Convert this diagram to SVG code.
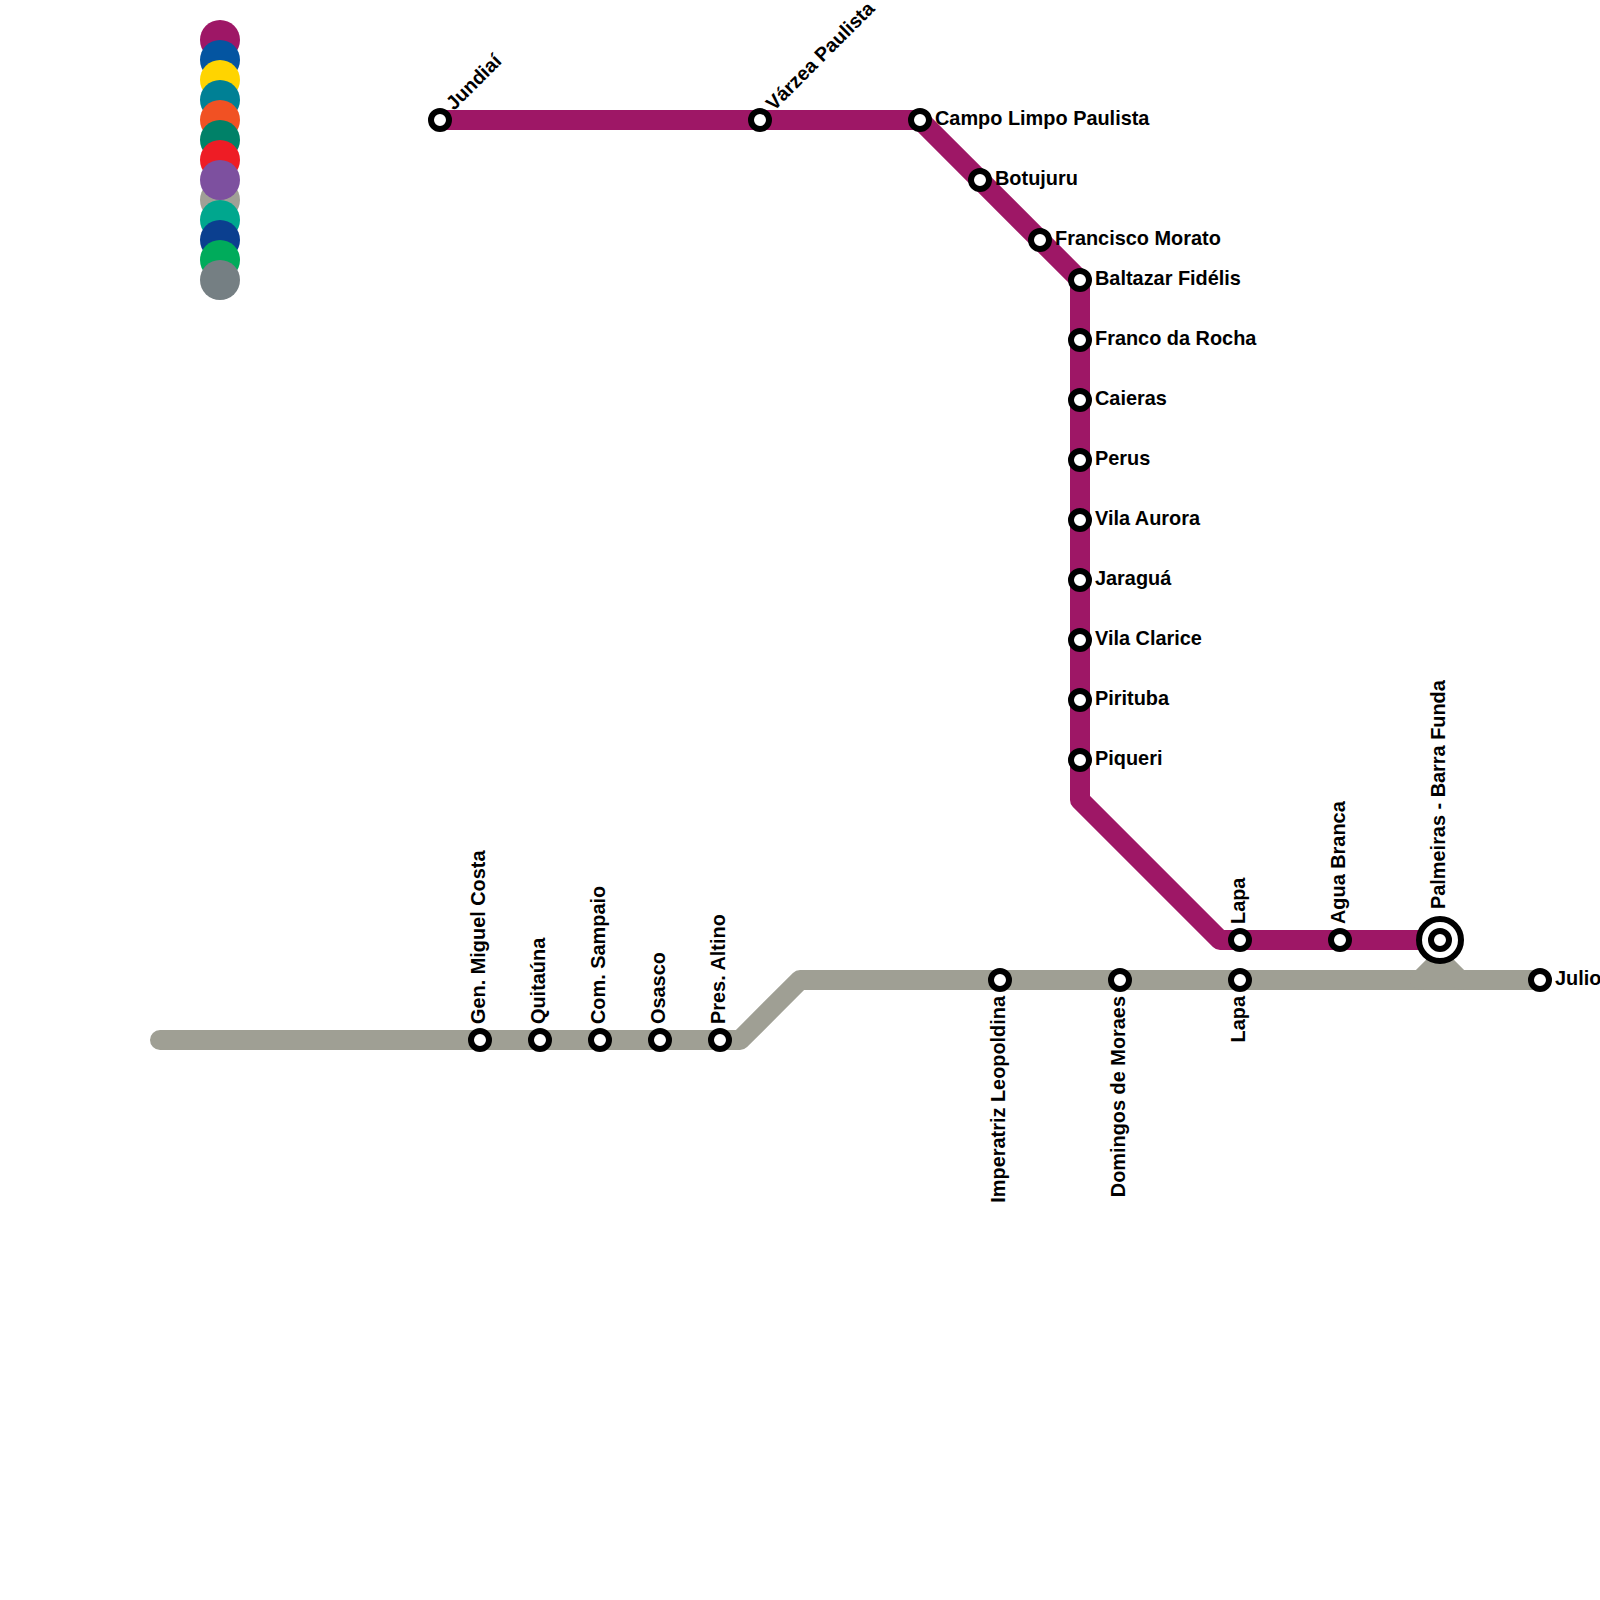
<svg xmlns="http://www.w3.org/2000/svg" width="1600" height="1600" viewBox="0 0 1600 1600">
<defs><style>
.l{fill:none;stroke-width:20;stroke-linejoin:round;stroke-linecap:round}
.s{fill:#fff;stroke:#000;stroke-width:6}
.t{font-family:"Liberation Sans",Arial,sans-serif;font-weight:700;font-size:19.9px;fill:#000}
.d{font-size:19.6px}
</style></defs>
<rect width="1600" height="1600" fill="#fff"/>
<g id="legend">
<circle cx="220" cy="40" r="20" fill="#9e1766"/>
<circle cx="220" cy="60" r="20" fill="#0455a1"/>
<circle cx="220" cy="80" r="20" fill="#ffd400"/>
<circle cx="220" cy="100" r="20" fill="#008095"/>
<circle cx="220" cy="120" r="20" fill="#f15123"/>
<circle cx="220" cy="140" r="20" fill="#008168"/>
<circle cx="220" cy="160" r="20" fill="#ee1c25"/>
<circle cx="220" cy="200" r="20" fill="#a0a096"/>
<circle cx="220" cy="180" r="20" fill="#7d509f"/>
<circle cx="220" cy="220" r="20" fill="#00a78e"/>
<circle cx="220" cy="240" r="20" fill="#0b3f8f"/>
<circle cx="220" cy="260" r="20" fill="#00ab5b"/>
<circle cx="220" cy="280" r="20" fill="#757f83"/>
</g>
<g id="connectors">
<path class="l" stroke="#9f9f94" d="M160 1040H740L800 980H1540"/>
<path class="l" stroke="#9f9f94" d="M1420 980L1440 960L1460 980"/>
<path class="l" stroke="#9e1766" d="M440 120H920L1080 280V800L1220 940H1440"/>
</g>
<g id="jundiai"><circle class="s" cx="440" cy="120" r="9"/><text class="t d" transform="translate(454 111) rotate(-45)">Jundiaí</text></g>
<g id="varzea-paulista"><circle class="s" cx="760" cy="120" r="9"/><text class="t d" transform="translate(774 111.5) rotate(-45)">Várzea Paulista</text></g>
<g id="campo-limpo-paulista"><circle class="s" cx="920" cy="120" r="9"/><text class="t" x="935" y="125">Campo Limpo Paulista</text></g>
<g id="botujuru"><circle class="s" cx="980" cy="180" r="9"/><text class="t" x="995" y="185">Botujuru</text></g>
<g id="francisco-morato"><circle class="s" cx="1040" cy="240" r="9"/><text class="t" x="1055" y="245">Francisco Morato</text></g>
<g id="baltazar-fidelis"><circle class="s" cx="1080" cy="280" r="9"/><text class="t" x="1095" y="285">Baltazar Fidélis</text></g>
<g id="franco-da-rocha"><circle class="s" cx="1080" cy="340" r="9"/><text class="t" x="1095" y="345">Franco da Rocha</text></g>
<g id="caieras"><circle class="s" cx="1080" cy="400" r="9"/><text class="t" x="1095" y="405">Caieras</text></g>
<g id="perus"><circle class="s" cx="1080" cy="460" r="9"/><text class="t" x="1095" y="465">Perus</text></g>
<g id="vila-aurora"><circle class="s" cx="1080" cy="520" r="9"/><text class="t" x="1095" y="525">Vila Aurora</text></g>
<g id="jaragua"><circle class="s" cx="1080" cy="580" r="9"/><text class="t" x="1095" y="585">Jaraguá</text></g>
<g id="vila-clarice"><circle class="s" cx="1080" cy="640" r="9"/><text class="t" x="1095" y="645">Vila Clarice</text></g>
<g id="pirituba"><circle class="s" cx="1080" cy="700" r="9"/><text class="t" x="1095" y="705">Pirituba</text></g>
<g id="piqueri"><circle class="s" cx="1080" cy="760" r="9"/><text class="t" x="1095" y="765">Piqueri</text></g>
<g id="lapa-7"><circle class="s" cx="1240" cy="940" r="9"/><text class="t" transform="translate(1245 924) rotate(-90)">Lapa</text></g>
<g id="agua-branca"><circle class="s" cx="1340" cy="940" r="9"/><text class="t" transform="translate(1345 924) rotate(-90)">Agua Branca</text></g>
<g id="palmeiras-barra-funda"><circle class="s" cx="1440" cy="940" r="21"/><circle class="s" cx="1440" cy="940" r="9"/><text class="t" transform="translate(1445 909) rotate(-90)">Palmeiras - Barra Funda</text></g>
<g id="julio"><circle class="s" cx="1540" cy="980" r="9"/><text class="t" x="1555" y="985">Julio</text></g>
<g id="lapa-8"><circle class="s" cx="1240" cy="980" r="9"/><text class="t" text-anchor="end" transform="translate(1245 996) rotate(-90)">Lapa</text></g>
<g id="domingos-de-moraes"><circle class="s" cx="1120" cy="980" r="9"/><text class="t" text-anchor="end" transform="translate(1125 996) rotate(-90)">Domingos de Moraes</text></g>
<g id="imperatriz-leopoldina"><circle class="s" cx="1000" cy="980" r="9"/><text class="t" text-anchor="end" transform="translate(1005 996) rotate(-90)">Imperatriz Leopoldina</text></g>
<g id="pres-altino"><circle class="s" cx="720" cy="1040" r="9"/><text class="t" transform="translate(725 1024) rotate(-90)">Pres. Altino</text></g>
<g id="osasco"><circle class="s" cx="660" cy="1040" r="9"/><text class="t" transform="translate(665 1024) rotate(-90)">Osasco</text></g>
<g id="com-sampaio"><circle class="s" cx="600" cy="1040" r="9"/><text class="t" transform="translate(605 1024) rotate(-90)">Com. Sampaio</text></g>
<g id="quitauna"><circle class="s" cx="540" cy="1040" r="9"/><text class="t" transform="translate(545 1024) rotate(-90)">Quitaúna</text></g>
<g id="gen-miguel-costa"><circle class="s" cx="480" cy="1040" r="9"/><text class="t" transform="translate(485 1024) rotate(-90)">Gen. Miguel Costa</text></g>
</svg>
